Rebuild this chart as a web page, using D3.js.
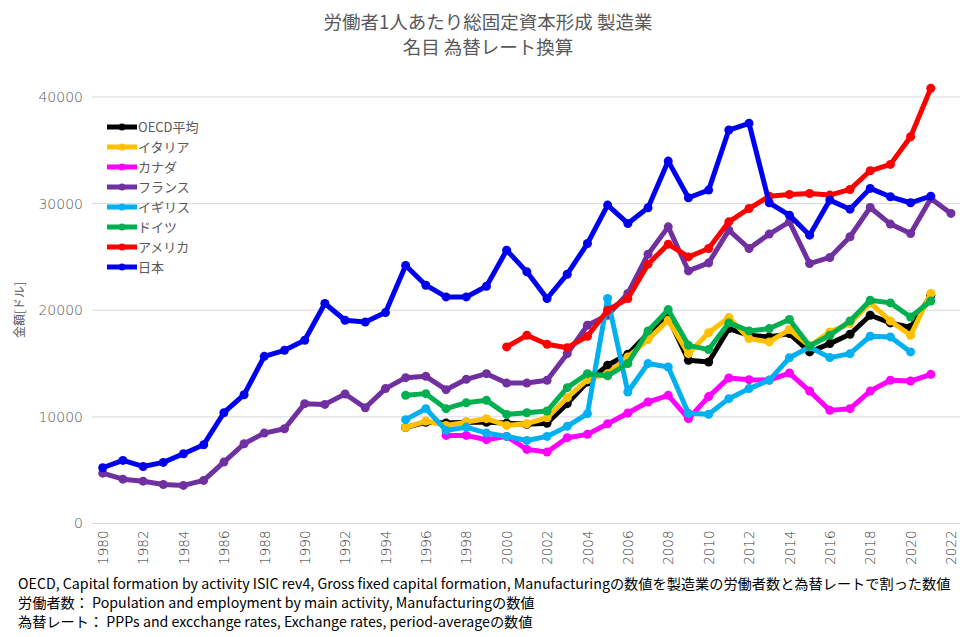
<!DOCTYPE html>
<html><head><meta charset="utf-8">
<script src="https://cdn.jsdelivr.net/npm/d3@7"></script>
<style>
body{margin:0;background:#fff;}
svg{display:block;font-family:"Noto Sans CJK JP","Noto Sans",sans-serif;}
</style></head><body>
<svg id="chart" width="976" height="637"></svg>
<script>
const years = d3.range(1980, 2023);
const yTicks = [0, 10000, 20000, 30000, 40000];
const xTicks = d3.range(1980, 2023, 2);
const seriesNames = ["OECD平均", "イタリア", "カナダ", "フランス", "イギリス", "ドイツ", "アメリカ", "日本"];
const seriesColors = ["#000000", "#FFC000", "#FF00FF", "#7030A0", "#00B0F0", "#00B050", "#FF0000", "#0000F0"];
const startOecd = 1995;
const oecd = [9000,9500,9420,9500,9500,9420,9300,9400,11240,13270,14840,15870,17810,19310,15310,15150,18280,17650,17500,17810,16090,16870,17750,19530,18810,18380,21410];
const startItaly = 1995;
const italy = [9000,9610,9200,9510,9830,9200,9360,9920,11800,13490,14050,15620,17250,19060,15930,17900,19310,17340,17030,18190,16650,17970,18750,20690,19000,17650,21570];
const startCanada = 1997;
const canada = [8260,8260,7860,8170,6950,6700,8050,8360,9360,10360,11390,12020,9830,11900,13650,13490,13450,14110,12420,10610,10770,12420,13430,13360,13990];
const startFrance = 1980;
const france = [4720,4160,3970,3660,3570,4040,5760,7480,8480,8890,11240,11170,12150,10860,12650,13680,13800,12550,13520,14050,13170,13170,13430,15930,18590,19530,21570,25260,27820,23690,24440,27510,25790,27140,28290,24380,24950,26890,29640,28080,27200,30490,29080];
const startUk = 1995;
const uk = [9740,10770,8730,9040,8480,8170,7790,8170,9110,10300,21100,12330,15000,14680,10330,10250,11710,12650,13430,15540,16560,15560,15930,17560,17500,16090];
const startGermany = 1995;
const germany = [12020,12180,10770,11330,11550,10230,10390,10550,12740,14050,13850,15000,18060,20060,16710,16310,18810,18060,18280,19130,16650,17650,19000,20940,20690,19370,20870];
const startUsa = 2000;
const usa = [16560,17650,16810,16490,17560,20000,21100,24320,26200,25000,25790,28290,29540,30700,30860,30950,30800,31330,33080,33680,36270,40820];
const startJapan = 1980;
const japan = [5230,5915,5350,5730,6540,7390,10390,12080,15680,16240,17180,20630,19060,18900,19780,24200,22350,21250,21250,22250,25630,23600,21100,23380,26260,29860,28140,29610,33990,30550,31270,36900,37530,30080,28920,27040,30330,29480,31430,30640,30080,30700];

const seriesData = [
  [startOecd, oecd], [startItaly, italy], [startCanada, canada], [startFrance, france],
  [startUk, uk], [startGermany, germany], [startUsa, usa], [startJapan, japan]
].map(([s, arr]) => arr.map((v, i) => ({year: s + i, value: v})));

const svg = d3.select("#chart");
const x = d3.scaleLinear().domain([1980, 2022]).range([102.7, 951]);
const y = d3.scaleLinear().domain([0, 40000]).range([523.5, 97]);
const gridL = 92, gridR = 960;

// gridlines
svg.append("g").selectAll("line").data(yTicks).join("line")
  .attr("x1", gridL).attr("x2", gridR)
  .attr("y1", d => y(d)).attr("y2", d => y(d))
  .attr("stroke", "#d9d9d9").attr("stroke-width", 1);

// y axis labels
const yAxis = d3.axisLeft(y).tickValues(yTicks).tickFormat(d3.format("d")).tickSize(0).tickPadding(0);
const yg = svg.append("g").attr("transform", `translate(83,0)`).call(yAxis);
yg.select(".domain").remove();
yg.selectAll("text").attr("fill", "#595959").attr("font-size", 14)
  .attr("font-family", "'DejaVu Sans','Liberation Sans',sans-serif").attr("font-weight", 200);

// x axis labels
const xAxis = d3.axisBottom(x).tickValues(xTicks).tickFormat(d3.format("d")).tickSize(0);
const xg = svg.append("g").attr("transform", `translate(0,${y(0)})`).call(xAxis);
xg.select(".domain").remove();
xg.selectAll("text")
  .attr("fill", "#333333").attr("font-size", 13.5)
  .attr("font-family", "'DejaVu Sans','Liberation Sans',sans-serif").attr("font-weight", 200)
  .attr("transform", "rotate(-90)")
  .attr("text-anchor", "end")
  .attr("dy", "0.35em").attr("x", -7).attr("y", 0);

// series
const line = d3.line().x(d => x(d.year)).y(d => y(d.value));
seriesData.forEach((data, i) => {
  const g = svg.append("g");
  g.append("path").datum(data).attr("d", line)
    .attr("fill", "none").attr("stroke", seriesColors[i]).attr("stroke-width", 5)
    .attr("stroke-linejoin", "round");
  g.selectAll("circle").data(data).join("circle")
    .attr("cx", d => x(d.year)).attr("cy", d => y(d.value)).attr("r", 4.5)
    .attr("fill", seriesColors[i]);
});

// title
const title = svg.append("text").attr("x", 488).attr("text-anchor", "middle")
  .attr("fill", "#595959").attr("font-size", 18.5);
title.append("tspan").attr("x", 488).attr("y", 29).text("労働者1人あたり総固定資本形成 製造業");
title.append("tspan").attr("x", 488).attr("y", 54).text("名目 為替レート換算");

// y axis title
svg.append("text").attr("transform", "translate(24,310) rotate(-90)")
  .attr("text-anchor", "middle").attr("fill", "#595959").attr("font-size", 12)
  .text("金額[ドル]");

// legend
const lg = svg.append("g");
seriesNames.forEach((n, i) => {
  const ly = 127 + i * 20;
  lg.append("line").attr("x1", 107).attr("x2", 137).attr("y1", ly).attr("y2", ly)
    .attr("stroke", seriesColors[i]).attr("stroke-width", 5);
  lg.append("circle").attr("cx", 122).attr("cy", ly).attr("r", 3.5).attr("fill", seriesColors[i]);
  lg.append("text").attr("x", 138).attr("y", ly).attr("dy", "0.35em")
    .attr("fill", "#595959").attr("font-size", 13).text(n);
});

// footer
const notes = [
  "OECD, Capital formation by activity ISIC rev4, Gross fixed capital formation, Manufacturingの数値を製造業の労働者数と為替レートで割った数値",
  "労働者数： Population and employment by main activity, Manufacturingの数値",
  "為替レート： PPPs and excchange rates, Exchange rates, period-averageの数値"
];
notes.forEach((t, i) => {
  svg.append("text").attr("x", 18).attr("y", 589 + i * 19).attr("fill", "#000")
    .attr("font-size", 14.2).text(t);
});
</script>
</body></html>
